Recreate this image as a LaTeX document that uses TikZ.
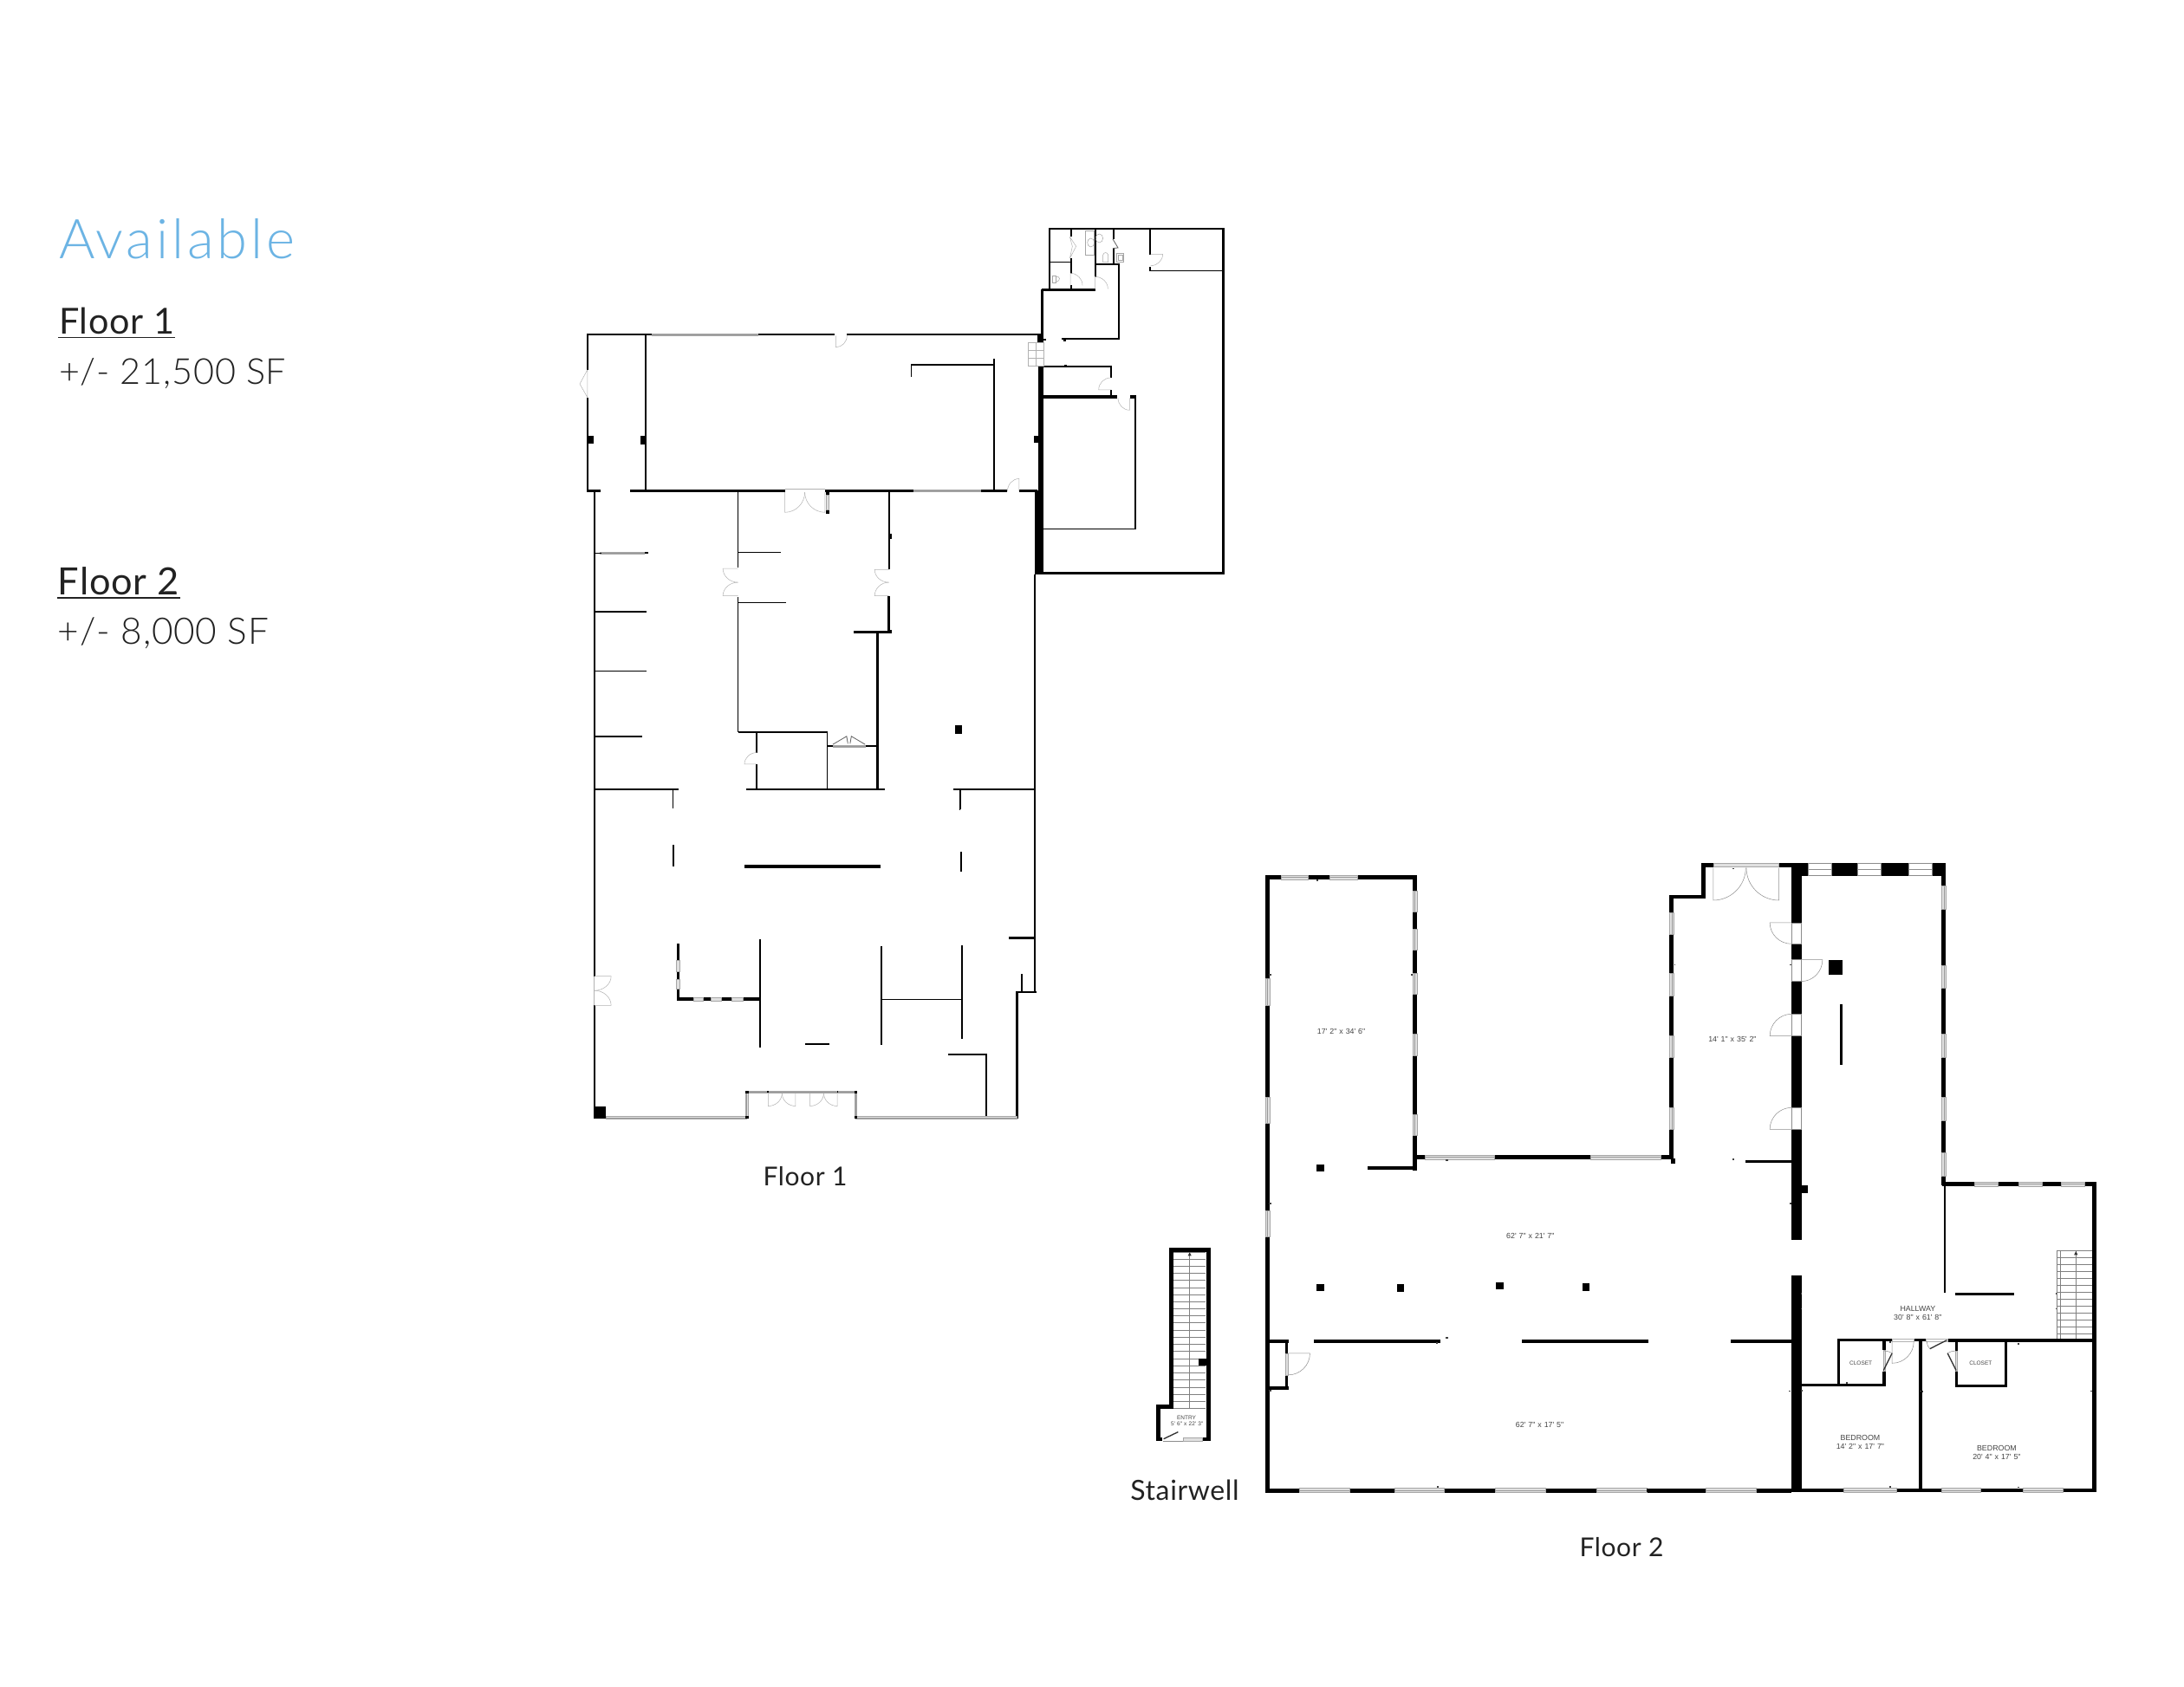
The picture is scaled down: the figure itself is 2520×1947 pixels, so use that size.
\documentclass[tikz,border=0pt]{standalone}
\usepackage{fontspec}
\usetikzlibrary{calc}
\setmainfont{Liberation Sans}
\newfontfamily\headlight[LetterSpace=6]{Lato Light}
\newfontfamily\bodylight[LetterSpace=2]{Lato Light}
\newfontfamily\labelreg[LetterSpace=2]{Lato}
\newfontfamily\plan{Liberation Sans}
\definecolor{bluehead}{HTML}{6CB4E4}
\definecolor{ink}{HTML}{222222}
\definecolor{plantext}{HTML}{444444}
\tikzset{
 winbox/.style={draw=black!35,fill=black!12,line width=0.15pt},
 winline/.style={draw=black!40,line width=0.12pt},
 doorline/.style={draw=black!45,line width=0.15pt},
 doorpale/.style={draw=black!30,line width=0.15pt},
 fixture/.style={draw=black!35,line width=0.15pt},
 leaf/.style={draw=black!80,line width=0.4pt},
 treadline/.style={draw=black!50,line width=0.15pt},
 txtnode/.style={inner sep=0pt,outer sep=0pt},
 roomtext/.style={inner sep=0pt,outer sep=0pt,text=plantext,font=\plan\fontsize{2.65}{3}\selectfont},
 smalltext/.style={inner sep=0pt,outer sep=0pt,text=plantext,font=\plan\fontsize{1.95}{2.4}\selectfont},
}
\newcommand\wh[4]{\fill[black] (#2,#1-#4) rectangle (#3,#1+#4);}
\newcommand\wv[4]{\fill[black] (#1-#4,#2) rectangle (#1+#4,#3);}
\newcommand\winh[4]{\path[winbox] (#2,#1-#4) rectangle (#3,#1+#4);\path[winline] (#2,#1) -- (#3,#1);}
\newcommand\winv[4]{\path[winbox] (#1-#4,#2) rectangle (#1+#4,#3);\path[winline] (#1,#2) -- (#1,#3);}
\newcommand\gap[4]{\fill[white] (#1,#2) rectangle (#3,#4);}
\newcommand\tickmarks[1]{\foreach \mx/\my in {#1}{\fill[black!75] (\mx-2.5,\my-2.5) rectangle (\mx+2.5,\my+2.5);}}
% hinge, leaf end, jamb
\newcommand\qd[4][doorline]{\draw[#1] (#2) -- (#3) .. controls ($(#3)+0.55*(#4)-0.55*(#2)$) and ($(#4)+0.55*(#3)-0.55*(#2)$) .. (#4);}
\begin{document}
\begin{tikzpicture}[x=0.3pt,y=-0.3pt]
\useasboundingbox (0,0) rectangle (2520,1947);
\fill[white] (0,0) rectangle (2520,1947);

% ---------- side texts ----------
\node[txtnode,anchor=base west,text=bluehead,font=\headlight\fontsize{19}{22}\selectfont] (avail) at (68,298.5) {Available};
\node[txtnode,anchor=base west,text=ink,font=\labelreg\fontsize{12.4}{15}\selectfont] (f1h) at (68,386) {Floor 1};
\draw[ink,line width=0.5pt] (67,389.5) -- (202,389.5);
\node[txtnode,anchor=base west,text=ink,font=\bodylight\fontsize{12.4}{15}\selectfont] (f1a) at (68,444) {+/- 21,500 SF};
\node[txtnode,anchor=base west,text=ink,font=\labelreg\fontsize{13}{15}\selectfont] (f2h) at (67,686.7) {Floor 2};
\draw[ink,line width=0.5pt] (66,690) -- (208,690);
\node[txtnode,anchor=base west,text=ink,font=\bodylight\fontsize{12.7}{15}\selectfont] (f2a) at (67,744) {+/- 8,000 SF};

\node[txtnode,text=ink,font=\labelreg\fontsize{9}{11}\selectfont] (lf1) at (929,1358) {Floor 1};
\node[txtnode,text=ink,font=\labelreg\fontsize{9}{11}\selectfont] (lf2) at (1871,1786) {Floor 2};
\node[txtnode,text=ink,font=\labelreg\fontsize{9.6}{11}\selectfont] (lst) at (1367,1720) {Stairwell};

% ---------- FLOOR 1, upper part ----------
\begin{scope}[shift={(660,240)},xscale=0.4974,yscale=0.4464]
 % front building
 \wh{327}{34}{1090}{3}
 \winh{327}{185}{430}{2}
 \gap{610}{323}{638}{331}
 \wv{36}{327}{732}{2.8}
 \gap{28}{418}{42}{490}
 \wv{171}{327}{731}{1.7}
 \fill[black] (36,590) rectangle (50,610);
 \fill[black] (158,590) rectangle (172,612);
 \fill[black] (1072,590) rectangle (1084,606);
 \wh{731}{34}{67}{3}
 \wh{731}{135}{1080}{3}
 \gap{494}{727}{587}{735}
 \path[doorpale] (494,727) -- (587,727);
 \winh{731}{793}{948}{3}
 \gap{1010}{727}{1037}{735}
 \qd[doorpale]{612,330}{612,360}{638,330}
 \draw[doorpale] (36,418) -- (18,455) -- (36,490) (36,418) -- (36,455) -- (36,490);
 \qd[doorpale]{494,735}{494,787}{540,735}
 \qd[doorpale]{587,735}{587,787}{540,735}
 \qd[doorpale]{1037,733}{1037,700}{1010,733}
 % pillar by double door
 \fill[black] (589,733) rectangle (597,790);
 \path[winbox] (590,742) rectangle (596,780);
 % left long wall and inner walls
 \wv{52}{731}{1568}{2.4}
 \wv{385}{731}{930}{1.7}
 \wv{385}{1005}{1355}{1.7}
 \qd[doorpale]{385,932}{350,932}{385,968}
 \qd[doorpale]{385,1003}{350,1003}{385,968}
 \wv{735}{731}{935}{2.2}
 \wv{735}{1003}{1100}{2.6}
 \fill[black] (733,843) rectangle (741,855);
 \qd[doorpale]{735,935}{702,935}{735,968}
 \qd[doorpale]{735,1003}{702,1003}{735,968}
 \wh{1097}{653}{742}{2.8}
 \fill[black] (733,1090) rectangle (742,1101);
 \wv{708}{1097}{1505}{2.8}
 % stubs
 \winh{892}{65}{168}{1.5}
 \wh{892}{55}{68}{1.5}
 \wh{892}{168}{176}{2}
 \wh{891}{385}{485}{1.7}
 \wh{1020}{385}{496}{1.7}
 \wh{1044}{52}{173}{1.7}
 \wh{1197}{52}{173}{1.7}
 \wh{1367}{52}{162}{2}
 % rooms at bottom
 \wh{1355}{385}{594}{2}
 \wv{592}{1355}{1505}{1.7}
 \wv{429}{1355}{1408}{2}
 \wv{429}{1438}{1505}{2}
 \qd[doorpale]{429,1438}{400,1438}{429,1408}
 \wh{1391}{592}{605}{1.6}
 \wh{1391}{680}{708}{1.6}
 \winh{1391}{605}{680}{2}
 \draw[black!60,line width=0.25pt] (605,1387) -- (637,1366) -- (640,1385) (680,1387) -- (648,1366) -- (645,1385);
 \wh{1503}{52}{248}{1.7}
 \wh{1503}{404}{725}{1.7}
 \wh{1503}{885}{1075}{1.7}
 \wv{234}{1503}{1553}{1.5}
 \wv{900}{1503}{1557}{1.5}
 \fill[black] (888,1338) rectangle (904,1360);
 % party wall
 \fill[black] (1073,731) rectangle (1093,947);
 \fill[black] (1081,408) rectangle (1093,731);
 \wv{1074}{947}{1568}{2.4}
 % rear building
 \wh{54}{1105}{1512}{3}
 \wv{1510}{52}{947}{3}
 \wh{944}{1073}{1512}{3.2}
 \wv{1108}{52}{212}{2.6}
 \wh{212}{1089}{1215}{2.6}
 \wv{1091}{210}{335}{2.6}
 \fill[black] (1080,326) rectangle (1094,348);
 \wh{340}{1094}{1100}{2}
 \wh{339}{1135}{1271}{2.4}
 \fill[black] (1139,337) rectangle (1146,345);
 \wv{1269}{145}{341}{2.2}
 \wh{145}{1213}{1271}{2.2}
 \wv{1214}{54}{180}{2}
 \wv{1157}{54}{75}{2}
 \wv{1157}{130}{170}{2}
 \wv{1157}{200}{212}{2}
 \wh{140}{1108}{1157}{1.7}
 \wv{1257}{54}{80}{1.7}
 \wv{1257}{105}{145}{1.7}
 \wv{1341}{54}{120}{2}
 \wv{1341}{152}{164}{2}
 \wh{162}{1339}{1508}{1.7}
 \wh{410}{1085}{1252}{1.7}
 \fill[black] (1141,405) rectangle (1147,413);
 \wv{1250}{410}{440}{1.8}
 \wv{1250}{470}{490}{1.8}
 \wh{488}{1085}{1265}{3.8}
 \wh{488}{1295}{1308}{3.8}
 \wv{1307}{485}{832}{1.8}
 \wh{830}{1090}{1309}{1.7}
 % partition in the front building
 \wh{405}{787}{978}{1.8}
 \wv{787}{405}{437}{1.7}
 \wv{979}{390}{731}{1.7}
\end{scope}

% rear-building details at a finer scale
\begin{scope}[shift={(1180,250)},scale=0.3333]
 \path[fixture] (218,48) rectangle (248,133);
 \draw[fixture] (236,90) ellipse (12 and 15);
 \draw[fixture] (265,75) ellipse (13 and 15);
 \draw[fixture] (278,158) -- (278,133) .. controls (280,122) and (294,122) .. (296,133) -- (296,158) -- cycle;
 \path[fixture] (325,127) rectangle (350,157);
 \path[fixture] (330,132) rectangle (345,152);
 \draw[fixture] (103,206) rectangle (114,228);
 \draw[fixture] (114,208) .. controls (128,204) and (136,222) .. (114,226);
 \draw[doorpale] (163,70) -- (185,103) -- (163,145) (163,70) -- (172,103) -- (163,145);
 \qd[doorpale]{165,238}{165,196}{207,238}
 \qd[doorpale]{250,250}{250,208}{295,250}
 \qd[doorpale]{443,130}{485,130}{443,170}
 \qd[doorpale]{305,600}{263,600}{305,558}
 \qd[doorpale]{370,628}{370,670}{330,628}
 \draw[black!60,line width=0.25pt] (312,78) -- (330,108) -- (312,110);
 \path[doorpale] (18,437) rectangle (72,517);
 \draw[doorpale] (18,463) -- (72,463) (18,490) -- (72,490) (45,437) -- (45,517);
\end{scope}

% ---------- FLOOR 1, lower part ----------
\begin{scope}[shift={(660,800)},xscale=0.37,yscale=0.3316]
 \wv{70.5}{0}{985}{3.2}
 \wv{70.5}{1087}{1480}{3.2}
 \qd[doorpale]{70,985}{122,985}{70,1035}
 \qd[doorpale]{70,1087}{122,1087}{70,1035}
 \path[doorpale] (68,985) -- (68,1087);
 \wv{1444}{0}{1042}{3.2}
 \wh{852}{1363}{1445}{5}
 \wv{1402}{978}{1040}{2.5}
 \wh{1040}{1384}{1448}{4}
 \wv{1387}{1036}{1480}{4}
 \wv{315}{333}{400}{2}
 \wv{316}{528}{602}{2}
 \wv{1212}{333}{405}{2}
 \wv{1214}{553}{622}{2.5}
 \wh{604}{537}{962}{6}
 % windowed L
 \wv{331}{872}{1070}{5}
 \wh{1065}{326}{586}{6}
 \path[winbox] (326,930) rectangle (336,968);
 \path[winbox] (326,995) rectangle (336,1030);
 \path[winbox] (378,1059) rectangle (410,1071);
 \path[winbox] (433,1059) rectangle (465,1071);
 \path[winbox] (498,1059) rectangle (532,1071);
 \wv{586}{855}{1232}{2}
 \wv{965}{880}{1224}{2}
 \wh{1067}{965}{1215}{2}
 \wv{1216}{878}{1203}{2}
 \wh{1220}{727}{803}{3}
 \wh{1258}{1172}{1295}{2.5}
 \wv{1293}{1256}{1475}{2.5}
 % entry
 \winh{1387}{545}{885}{3}
 \winv{545}{1387}{1477}{3}
 \winv{885}{1387}{1477}{3}
 \winh{1477}{105}{545}{3.5}
 \winh{1477}{885}{1387}{3.5}
 \fill[black] (541,1383) rectangle (550,1393);
 \fill[black] (880,1383) rectangle (890,1393);
 \fill[black] (541,1472) rectangle (550,1482);
 \fill[black] (881,1472) rectangle (889,1482);
 \fill[black] (608,1383) rectangle (614,1391);
 \fill[black] (826,1383) rectangle (831,1391);
 \fill[black] (68,1437) rectangle (105,1481);
 \qd[doorpale]{612,1392}{612,1437}{655,1392}
 \qd[doorpale]{697,1392}{697,1437}{655,1392}
 \qd[doorpale]{742,1392}{742,1437}{785,1392}
 \qd[doorpale]{827,1392}{827,1437}{785,1392}
\end{scope}

% ---------- FLOOR 2, west part ----------
\begin{scope}[shift={(1440,980)},xscale=0.4464,yscale=0.4974]
 \wv{50}{60}{1493}{5.5}
 \foreach \a/\b in {300/362,575/635,838/900}{\winv{50}{\a}{\b}{5.5}}
 \wh{65}{45}{437}{5}
 \foreach \a/\b in {85/155,212/282}{\winh{65}{\a}{\b}{5}}
 \wv{431}{60}{745}{5.5}
 \foreach \a/\b in {97/146,186/233,287/337,429/478,615/663}{\winv{431}{\a}{\b}{5.5}}
 \wh{740}{310}{435}{3.5}
 \wh{715}{431}{1100}{5}
 \foreach \a/\b in {457/637,886/1067}{\winh{715}{\a}{\b}{5}}
 % columns
 \fill[black] (177,731) rectangle (196,748);
 \fill[black] (177,1009) rectangle (196,1026);
 \fill[black] (385,1010) rectangle (404,1027);
 \fill[black] (641,1005) rectangle (660,1022);
 \fill[black] (865,1007) rectangle (883,1025);
 % long low walls
 \wh{1142}{170}{498}{3.5}
 \wh{1142}{707}{1035}{3.5}
 \wh{1142}{1248}{1405}{3.5}
 % left closet
 \wh{1142}{50}{105}{3.5}
 \wh{1250}{50}{105}{3.5}
 \wv{100}{1142}{1170}{3.5}
 \wv{100}{1220}{1253}{3.5}
 \path[winbox] (96,1170) rectangle (104,1220);
 \qd{104,1170}{160,1170}{104,1220}
 % south wall
 \wh{1488}{45}{1405}{5}
 \foreach \a/\b in {133/263,378/507,638/769,902/1032,1184/1313}{\winh{1488}{\a}{\b}{5}}
 \tickmarks{179/72,57/291,424/291,57/822,514/722,489/1146,514/1134,490/1480,57/1257}
 \node[roomtext] (r1) at (241,424) {17'\,\,2"\,\,x\,\,34'\,\,6"};
 \node[roomtext] (r2) at (730,898) {62'\,\,7"\,\,x\,\,21'\,\,7"};
 \node[roomtext] (r3) at (754,1336) {62'\,\,7"\,\,x\,\,17'\,\,5"};
\end{scope}

% ---------- FLOOR 2, north-east part ----------
\begin{scope}[shift={(1900,980)},xscale=0.3571,yscale=0.3333]
 \wv{81}{160}{1075}{7}
 \foreach \a/\b in {220/295,430/508,645/720,895/970}{\winv{81}{\a}{\b}{7}}
 \fill[black] (78,1070) rectangle (93,1088);
 \wh{165}{74}{188}{7}
 \wv{182}{48}{172}{7}
 \wh{55}{175}{215}{7}
 \wh{55}{425}{468}{7}
 \path[winbox] (215,48) rectangle (427,62);
 \wv{484}{48}{1352}{16}
 \foreach \a/\b in {255/328,383/458,571/647,895/970}{\fill[white] (467,\a) rectangle (500,\b);\draw[doorline] (468,\a) rectangle (500,\b);}
 \qd{215,65}{215,177}{320,65}
 \qd{427,65}{427,177}{322,65}
 \qd{468,255}{398,255}{468,328}
 \qd{499,383}{568,383}{499,458}
 \qd{468,647}{398,647}{468,571}
 \qd{468,970}{398,970}{468,895}
 \wh{70}{468}{967}{22}
 \foreach \a/\b in {522/598,680/756,846/922}{\fill[white] (\a,48) rectangle (\b,92);\draw[doorline] (\a,48) rectangle (\b,92);\draw[doorline] (\a,70) -- (\b,70);}
 \wv{960}{48}{1165}{7}
 \foreach \a/\b in {128/208,402/482,640/720,860/940,1052/1132}{\winv{960}{\a}{\b}{7}}
 \fill[black] (588,385) rectangle (632,436);
 \fill[black] (624,537) rectangle (634,747);
 \wh{1082}{319}{470}{4}
 \fill[black] (495,1165) rectangle (522,1192);
 \tickmarks{281/67,91/401,465/401,281/1074,465/1228}
 \node[roomtext] (r4) at (277,658) {14'\,\,1"\,\,x\,\,35'\,\,2"};
\end{scope}

% ---------- FLOOR 2, south-east part ----------
\begin{scope}[shift={(1900,1360)},xscale=0.3571,yscale=0.3333]
 \wh{20}{955}{1452}{7}
 \foreach \a/\b in {1058/1134,1202/1278,1340/1416}{\winh{20}{\a}{\b}{7}}
 \wv{1445}{12}{1087}{7}
 \wv{963}{15}{395}{3.5}
 \wh{400}{996}{1188}{5}
 \wv{484}{335}{1087}{16}
 % stairs
 \draw[treadline] (1325,250) -- (1325,560) (1335,250) -- (1335,560) (1387,250) -- (1387,560);
 \foreach \y in {250,275,298,322,346,370,394,418,442,466,490,514,537}{\draw[treadline] (1325,\y) -- (1438,\y);}
 \fill[black!80] (1387,252) -- (1381,265) -- (1393,265) -- cycle;
 % hallway south wall
 \wh{560}{617}{793}{5}
 \wh{560}{863}{902}{5}
 \wh{562}{972}{1440}{5.5}
 \wh{565}{272}{468}{5}
 \path[doorpale] (793,556) rectangle (863,564);
 \path[doorpale] (902,556) rectangle (972,564);
 \wv{621}{558}{720}{4.5}
 \wh{716}{500}{771}{4.5}
 \wv{767}{558}{595}{4.5}
 \wv{767}{668}{720}{4.5}
 \path[winbox] (764,595) rectangle (770,668);
 \wv{885}{558}{1080}{5}
 \wv{1000}{560}{598}{4.5}
 \wv{1000}{668}{724}{4.5}
 \path[winbox] (997,598) rectangle (1003,668);
 \wh{720}{996}{1164}{4.5}
 \wv{1160}{560}{724}{4.5}
 \draw[leaf] (765,665) -- (793,605);
 \draw[doorline] (793,605) .. controls (785,600) and (775,597) .. (767,597);
 \draw[leaf] (1000,665) -- (972,605);
 \draw[doorline] (972,605) .. controls (980,600) and (990,597) .. (998,597);
 \draw[leaf] (915,590) -- (970,560);
 \draw[doorline] (915,590) .. controls (908,582) and (905,572) .. (905,564);
 \qd{793,565}{793,640}{863,565}
 % south wall
 \wh{1080}{0}{1452}{7}
 \foreach \a/\b in {190/353,635/808,952/1080,1216/1345}{\winh{1080}{\a}{\b}{7}}
 \tickmarks{1201/573,786/1068,1201/1070,646/708,1323/400,1323/452,500/400,500/452,463/737,502/735,885/737,892/738,1437/737,786/568}
 \node[roomtext] (t1) at (876,450) {HALLWAY};
 \node[roomtext] (t2) at (876,481) {30'\,\,8"\,\,x\,\,61'\,\,8"};
 \node[smalltext] (t3) at (692,640) {CLOSET};
 \node[smalltext] (t4) at (1079,641) {CLOSET};
 \node[roomtext] (t5) at (690,899) {BEDROOM};
 \node[roomtext] (t6) at (690,928) {14'\,\,2"\,\,x\,\,17'\,\,7"};
 \node[roomtext] (t7) at (1131,934) {BEDROOM};
 \node[roomtext] (t8) at (1131,963) {20'\,\,4"\,\,x\,\,17'\,\,5"};
\end{scope}

% ---------- STAIRWELL ----------
\begin{scope}[shift={(1300,1420)},scale=0.3333]
 \foreach \y in {75,100,124,148,173,198,222,247,271,296,320,345,370,394,419,444,468,493,518,543,568,592,617}{\draw[treadline] (163,\y) -- (273,\y);}
 \draw[treadline] (218,75) -- (218,617);
 \fill[black!80] (218,76) -- (212,88) -- (224,88) -- cycle;
 \fill[black] (147,60) rectangle (289,74);
 \wv{155}{60}{612}{8}
 \wv{282}{60}{730}{7.5}
 \fill[black] (101,604) rectangle (163,618);
 \wv{109}{604}{730}{8}
 \wh{724}{101}{123}{6}
 \wh{724}{262}{289}{6}
 \fill[black] (250,444) rectangle (275,468);
 \path[winbox] (195,718) rectangle (262,730);
 \draw[leaf] (128,722) -- (178,698);
 \draw[doorline] (125,730) -- (195,730);
 \node[smalltext] (s1) at (207,649) {ENTRY};
 \node[smalltext] (s2) at (209,671) {5'\,\,6"\,\,x\,\,22'\,\,3"};
\end{scope}
\end{tikzpicture}
\end{document}
